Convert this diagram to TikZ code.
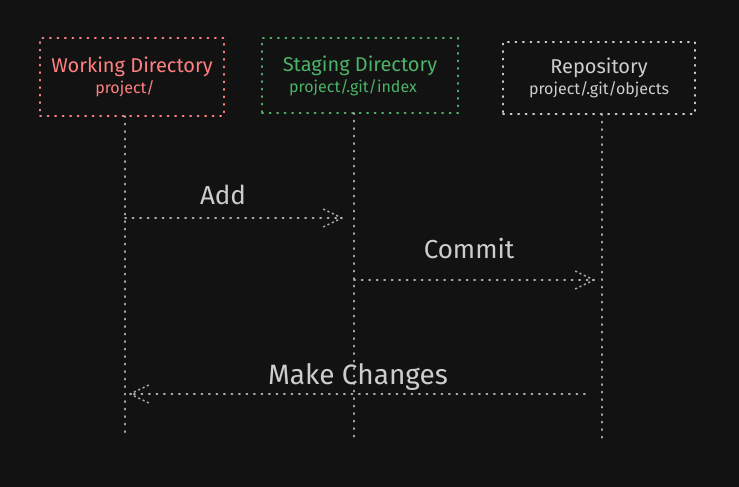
\documentclass[tikz,border=0pt]{standalone}
\usepackage{fontspec}
\setmainfont{Fira Sans}
\usetikzlibrary{arrows.meta,positioning}

\definecolor{bgdark}{RGB}{18,18,18}
\definecolor{wdred}{RGB}{255,128,128}
\definecolor{sdgreen}{RGB}{76,178,104}
\definecolor{repogray}{RGB}{205,205,205}

\tikzset{
  dotline/.style={line width=1.6pt, line cap=round, dash pattern=on 1.2pt off 6.3pt},
  box/.style={dotline, align=center, inner sep=0pt},
  life/.style={dotline, draw=repogray!80!black},
  msg/.style={dotline, draw=repogray!85!black},
  msgtip/.style={msg, dash pattern=on 1.2pt off 3.6pt},
  msglabel/.style={text=repogray, font=\fontsize{26}{30}\selectfont},
}
\newcommand{\boxtext}[2]{{\fontsize{20}{24}\selectfont #1}\\[3pt]{\fontsize{16}{19}\selectfont #2}}

\begin{document}
\begin{tikzpicture}[x=1pt, y=-1pt]
    \fill[bgdark] (0,0) rectangle (739,487);
    \useasboundingbox (0,0) rectangle (739,487);
    % Boxes
    \node[box, draw=wdred, text=wdred, minimum width=184pt, minimum height=78pt] (wd) at (132,77)
      {\boxtext{Working Directory}{\hspace*{-14pt}project/}};
    \node[box, draw=sdgreen, text=sdgreen, minimum width=196pt, minimum height=75pt] (sd) at (360,75.5)
      {\boxtext{Staging Directory}{\hspace*{-14pt}project/.git/index}};
    \node[box, draw=repogray, text=repogray, minimum width=192pt, minimum height=72pt] (repo) at (599,78)
      {\boxtext{Repository}{project/.git/objects}};
    % Lifelines
    \coordinate (wdTop) at (125,116);
    \coordinate (wdEnd) at (125,437);
    \coordinate (sdTop) at (354,113);
    \coordinate (sdEnd) at (354,437);
    \coordinate (repoTop) at (602,114);
    \coordinate (repoEnd) at (602,440);
    \draw[life] (wdTop) -- (wdEnd);
    \draw[life] (sdTop) -- (sdEnd);
    \draw[life] (repoTop) -- (repoEnd);
    % Messages
    \coordinate (addFrom) at (125,218);
    \coordinate (addTo) at (342,218);
    \coordinate (commitFrom) at (354,280);
    \coordinate (commitTo) at (594,280);
    \coordinate (changeFrom) at (585,394);
    \coordinate (changeTo) at (130,394);
    \draw[msg] (addFrom) -- (addTo);
    \draw[msgtip] (addTo) -- ++(-21,-10) (addTo) -- ++(-21,10);
    \draw[msg] (commitFrom) -- (commitTo);
    \draw[msgtip] (commitTo) -- ++(-21,-10) (commitTo) -- ++(-21,10);
    \draw[msg] (changeFrom) -- (changeTo);
    \draw[msgtip] (changeTo) -- ++(21,-10) (changeTo) -- ++(21,10);
    \node[msglabel] (add) at (223,195) {Add};
    \node[msglabel] (commit) at (469,249) {Commit};
    \node[msglabel, font=\fontsize{28}{32}\selectfont] (change) at (358,377) {Make Changes};
\end{tikzpicture}
\end{document}
